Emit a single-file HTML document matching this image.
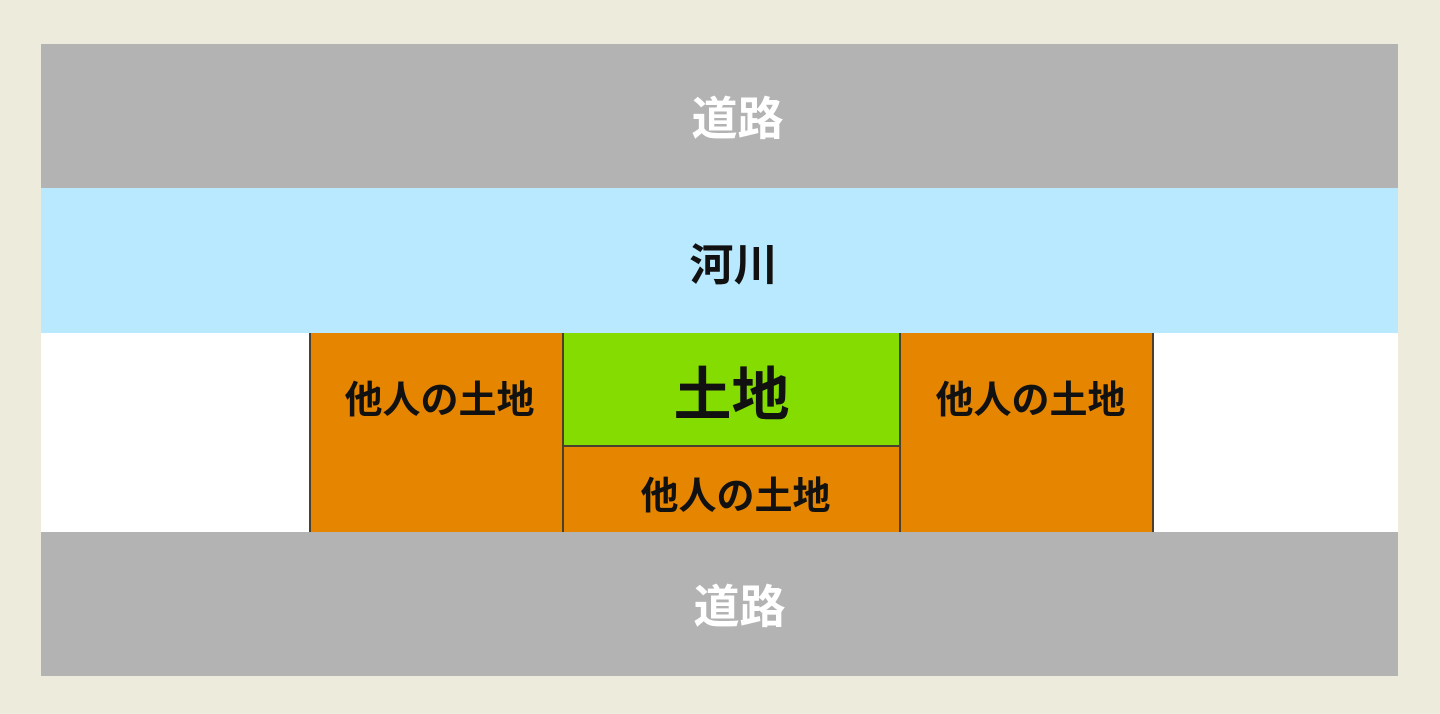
<!DOCTYPE html>
<html><head><meta charset="utf-8"><style>
body{margin:0;width:1440px;height:714px;background:#edebdc;position:relative;overflow:hidden;font-family:"Liberation Sans","Noto Sans CJK JP",sans-serif;font-weight:bold}
div{position:absolute;box-sizing:border-box;display:flex;justify-content:center}
.road{background:#b3b3b3;color:#fff;font-size:46px;align-items:center;left:61px;width:1357px;height:144px}
.o{background:#e68600;color:#111;font-size:38px}
.l{background:#4a4030}
</style></head><body>
<div class="road" style="left:41px;top:44px;padding-left:36px">道路</div>
<div style="left:41px;top:188px;width:1357px;height:145px;background:#b8e9fe;color:#111;font-size:44px;align-items:center;padding-left:28px">河川</div>
<div style="left:41px;top:333px;width:1357px;height:199px;background:#fff"></div>
<div class="o" style="left:310px;top:333px;width:253px;height:199px;padding-top:36px;padding-left:6px">他人の土地</div>
<div class="o" style="left:900px;top:333px;width:253px;height:199px;padding-top:36px;padding-left:8px">他人の土地</div>
<div style="left:563px;top:333px;width:337px;height:113px;background:#84dc00;color:#111;font-size:58px;align-items:center;padding-top:0">土地</div>
<div class="o" style="left:563px;top:446px;width:337px;height:86px;align-items:center;padding-left:8px;padding-top:6px">他人の土地</div>
<div class="l" style="left:309px;top:333px;width:2px;height:199px"></div>
<div class="l" style="left:562px;top:333px;width:2px;height:199px"></div>
<div class="l" style="left:899px;top:333px;width:2px;height:199px"></div>
<div class="l" style="left:1152px;top:333px;width:2px;height:199px"></div>
<div class="l" style="left:563px;top:445px;width:337px;height:2px"></div>
<div class="road" style="left:41px;top:532px;padding-left:40px">道路</div>
</body></html>
